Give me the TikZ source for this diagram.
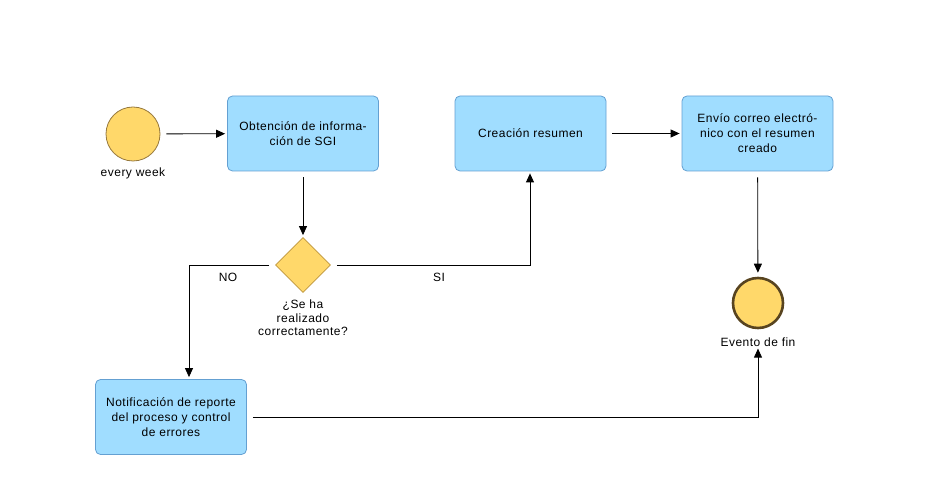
\documentclass[tikz,border=0pt]{standalone}
\usepackage{fontspec}
\setmainfont[LetterSpace=4]{Liberation Sans}
\usetikzlibrary{arrows.meta,shapes.geometric}
\definecolor{taskfill}{RGB}{160,221,255}
\definecolor{taskdraw}{RGB}{100,160,210}
\definecolor{evfill}{RGB}{255,216,106}
\definecolor{startdraw}{RGB}{150,120,60}
\definecolor{enddraw}{RGB}{88,68,32}
\definecolor{gwdraw}{RGB}{190,150,60}
\begin{document}
\begin{tikzpicture}[x=1pt,y=-1pt,
  txt/.style={font=\fontsize{12}{13.5}\selectfont},
  task/.style={font=\fontsize{12}{15}\selectfont,rectangle,rounded corners=5pt,draw=taskdraw,fill=taskfill,
    line width=0.8pt,minimum width=151pt,minimum height=75pt,align=center,inner sep=2pt},
  startev/.style={circle,draw=startdraw,fill=evfill,line width=0.8pt,minimum size=54pt,inner sep=0pt},
  endev/.style={circle,draw=enddraw,fill=evfill,line width=2.6pt,minimum size=50pt,inner sep=0pt},
  gateway/.style={diamond,draw=gwdraw,fill=evfill,line width=0.8pt,minimum width=55pt,minimum height=55pt,inner sep=0pt},
  lbl/.style={txt,align=center,inner sep=0pt},
  flow/.style={draw=black,line width=0.8pt,-{Triangle[length=9pt,width=8pt]},shorten <=6pt,shorten >=2pt}]
\useasboundingbox (0,0) rectangle (930,486);

% events and gateway
\node[startev] (start) at (133,134) {};
\node[lbl] (startlbl) at (133,173) {every week};
\node[gateway] (gw) at (303,265) {};
\node[lbl] (gwlbl) at (303,318) {¿Se ha\\realizado\\correctamente?};
\node[endev] (fin) at (758,303) {};
\node[lbl] (finlbl) at (758,342) {Evento de fin};

% tasks
\node[task] (t1) at (303,133.5) {Obtención de informa-\\ción de SGI};
\node[task] (t2) at (530.5,133.5) {Creación resumen};
\node[task] (t3) at (757.5,133.5) {Envío correo electró-\\nico con el resumen\\creado};
\node[task] (t4) at (171,417) {Notificación de reporte\\del proceso y control\\de errores};

% bend points of the routed flows
\coordinate (noturn) at (189,265);
\coordinate (siturn) at (530,265);
\coordinate (errturn) at (758,417);

% sequence flows
\draw[flow] (start) -- (t1);
\draw[flow] (t2) -- (t3);
\draw[flow] (t1) -- (gw);
\draw[flow,shorten >=4pt] (t3) -- (fin);
\draw[flow] (gw.west) -- (noturn) -- (noturn |- t4.north);
\draw[flow] (gw.east) -- (siturn) -- (siturn |- t2.south);
\draw[flow] (t4.east) -- (errturn) -- (finlbl.south -| errturn);

% flow labels
\node[lbl] (nolbl) at (228,277) {NO};
\node[lbl] (silbl) at (439,277) {SI};
\end{tikzpicture}
\end{document}
